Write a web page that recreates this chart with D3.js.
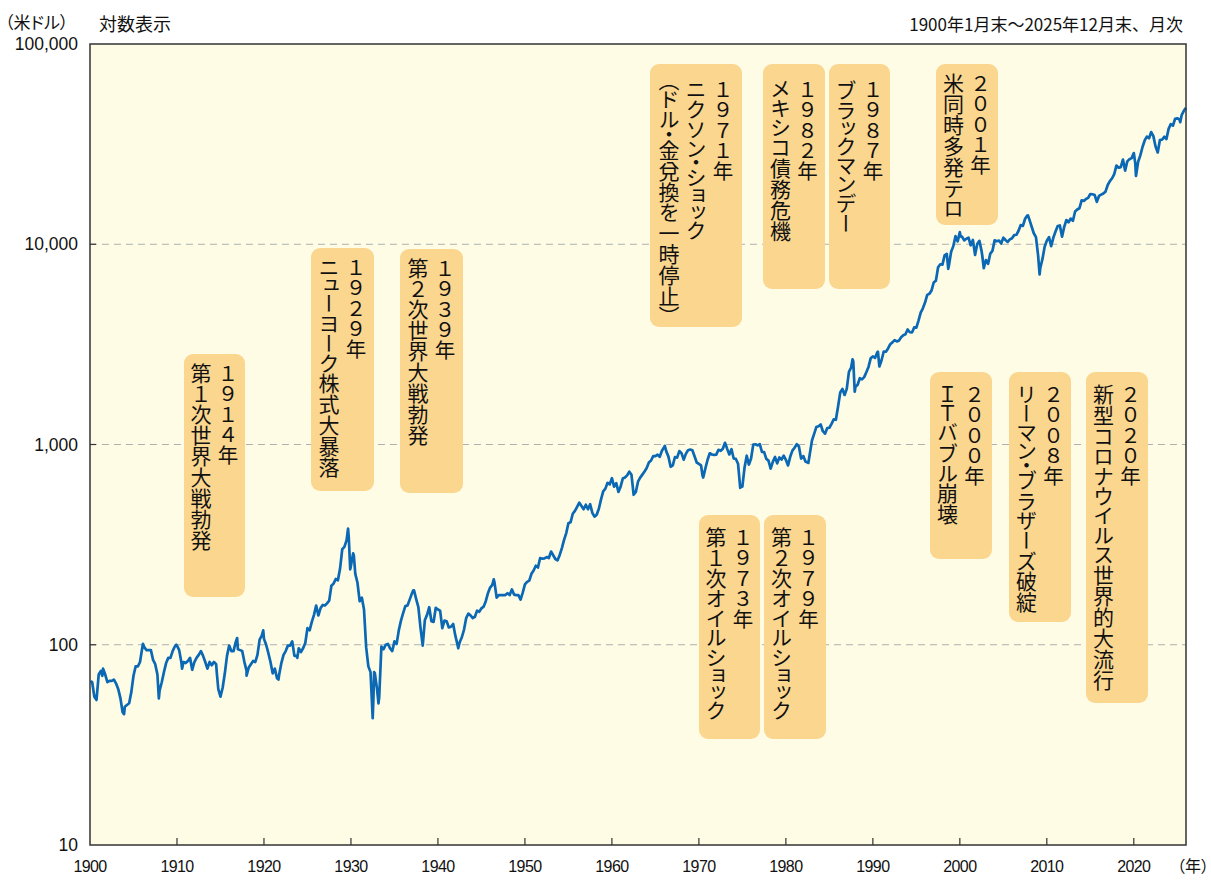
<!DOCTYPE html>
<html>
<head>
<meta charset="utf-8">
<script src="https://d3js.org/d3.v7.min.js"></script>
<style>
  body { margin: 0; background: #fff; }
  .tick-label { font-family: "Liberation Sans", Arial, sans-serif; fill: #111; }
  .jp { font-family: "Noto Sans CJK JP", sans-serif; fill: #111; }
</style>
</head>
<body>
<div id="chart"></div>
<script>
// DJIA quarter-end closes (Mar, Jun, Sep, Dec)
var q1900s = [
  [1900, 65, 55, 53, 71], [1901, 74, 76, 71, 65], [1902, 66, 66, 67, 64],
  [1903, 60, 54, 46, 49], [1904, 50, 51, 58, 70], [1905, 78, 78, 82, 96],
  [1906, 97, 94, 94, 94], [1907, 84, 80, 71, 59], [1908, 65, 73, 81, 86],
  [1909, 86, 93, 98, 99]
];
var q1910s = [
  [1910, 94, 82, 82, 81], [1911, 83, 86, 75, 82], [1912, 86, 89, 93, 88],
  [1913, 82, 76, 82, 79], [1914, 82, 80, 60, 55], [1915, 61, 72, 88, 99],
  [1916, 93, 93, 103, 95], [1917, 94, 93, 82, 74], [1918, 77, 80, 83, 82],
  [1919, 89, 106, 111, 107]
];
var q1920s = [
  [1920, 100, 91, 82, 72], [1921, 76, 68, 71, 81], [1922, 89, 93, 99, 99],
  [1923, 104, 88, 88, 96], [1924, 92, 96, 102, 121], [1925, 118, 130, 141, 157],
  [1926, 140, 152, 158, 157], [1927, 161, 166, 197, 202], [1928, 213, 210, 240, 300],
  [1929, 308, 333, 343, 248]
];
var q1930s = [
  [1930, 286, 226, 204, 165], [1931, 172, 150, 97, 78], [1932, 73, 43, 72, 60],
  [1933, 55, 98, 95, 100], [1934, 101, 96, 93, 104], [1935, 101, 118, 132, 144],
  [1936, 156, 157, 168, 180], [1937, 187, 169, 154, 121], [1938, 99, 133, 141, 154],
  [1939, 131, 130, 153, 150]
];
var q1940s = [
  [1940, 148, 121, 132, 131], [1941, 122, 123, 127, 111], [1942, 100, 103, 109, 119],
  [1943, 136, 143, 140, 136], [1944, 138, 148, 146, 152], [1945, 155, 165, 181, 193],
  [1946, 199, 205, 172, 177], [1947, 177, 177, 177, 181], [1948, 177, 189, 178, 177],
  [1949, 177, 168, 182, 200]
];
var q1950s = [
  [1950, 206, 209, 226, 235], [1951, 248, 243, 271, 269], [1952, 270, 274, 271, 292],
  [1953, 280, 268, 264, 281], [1954, 304, 334, 361, 404], [1955, 409, 451, 466, 488],
  [1956, 512, 493, 475, 500], [1957, 475, 503, 456, 436], [1958, 446, 478, 532, 584],
  [1959, 602, 644, 632, 679]
];
var q1960s = [
  [1960, 616, 641, 580, 616], [1961, 676, 684, 701, 731], [1962, 706, 561, 579, 652],
  [1963, 683, 707, 733, 763], [1964, 813, 832, 875, 874], [1965, 889, 868, 931, 969],
  [1966, 924, 870, 774, 786], [1967, 866, 860, 927, 905], [1968, 840, 898, 936, 944],
  [1969, 936, 873, 813, 800]
];
var q1970s = [
  [1970, 786, 684, 761, 839], [1971, 904, 891, 887, 890], [1972, 941, 929, 953, 1020],
  [1973, 951, 892, 947, 851], [1974, 847, 802, 608, 616], [1975, 768, 879, 794, 852],
  [1976, 999, 1003, 990, 1005], [1977, 919, 916, 847, 831], [1978, 757, 819, 866, 805],
  [1979, 862, 842, 879, 839]
];
var q1980s = [
  [1980, 786, 868, 932, 964], [1981, 1004, 977, 850, 875], [1982, 822, 812, 896, 1047],
  [1983, 1130, 1222, 1233, 1259], [1984, 1165, 1133, 1207, 1212], [1985, 1267, 1336, 1329, 1547],
  [1986, 1819, 1893, 1768, 1896], [1987, 2305, 2419, 2596, 1939], [1988, 1989, 2142, 2113, 2169],
  [1989, 2294, 2440, 2693, 2753]
];
var q1990s = [
  [1990, 2707, 2881, 2453, 2634], [1991, 2914, 2907, 3017, 3169], [1992, 3236, 3319, 3272, 3301],
  [1993, 3435, 3516, 3555, 3754], [1994, 3636, 3625, 3843, 3834], [1995, 4158, 4556, 4789, 5117],
  [1996, 5588, 5655, 5882, 6448], [1997, 6584, 7673, 7945, 7908], [1998, 8800, 8952, 7843, 9181],
  [1999, 9786, 10971, 10337, 11497]
];
var q2000s = [
  [2000, 10922, 10448, 10651, 10787], [2001, 9879, 10502, 8848, 10022], [2002, 10404, 9243, 7592, 8342],
  [2003, 7992, 8985, 9275, 10454], [2004, 10358, 10435, 10080, 10783], [2005, 10504, 10275, 10569, 10718],
  [2006, 11109, 11150, 11679, 12463], [2007, 12354, 13409, 13896, 13265], [2008, 12263, 11350, 10851, 8776],
  [2009, 7609, 8447, 9712, 10428]
];
var q2010s = [
  [2010, 10857, 9774, 10788, 11578], [2011, 12320, 12414, 10913, 12218], [2012, 13212, 12880, 13437, 13104],
  [2013, 14579, 14910, 15130, 16577], [2014, 16458, 16827, 17043, 17823], [2015, 17776, 17620, 16285, 17425],
  [2016, 17685, 17930, 18308, 19763], [2017, 20663, 21350, 22405, 24719], [2018, 24103, 24271, 26458, 23327],
  [2019, 25929, 26600, 26917, 28538]
];
var q2020s = [
  [2020, 21917, 25813, 27782, 30606], [2021, 32982, 34503, 33844, 36338], [2022, 34678, 30775, 28726, 33147],
  [2023, 33274, 34408, 33508, 37690], [2024, 39807, 39119, 42330, 42544], [2025, 42002, 44095, 46398, 48000]
];
// extra month-end turning points between quarter ends: [year, month, value]
var turningPoints = [
  [1900, 1, 66], [1901, 5, 70], [1903, 11, 45], [1906, 1, 101], [1907, 11, 54],
  [1909, 11, 100], [1910, 7, 76], [1914, 7, 72], [1916, 11, 108], [1917, 12, 70],
  [1919, 11, 118], [1921, 8, 67], [1923, 10, 86], [1929, 8, 380], [1929, 11, 238],
  [1930, 4, 279], [1932, 7, 54], [1932, 8, 73], [1933, 2, 51], [1937, 2, 187],
  [1938, 3, 99], [1942, 4, 96], [1946, 5, 212], [1962, 6, 561], [1966, 1, 984],
  [1970, 5, 700], [1973, 1, 999], [1974, 11, 619], [1982, 7, 809], [1987, 8, 2663],
  [1987, 11, 1834], [1990, 7, 2905], [1998, 8, 7539], [2000, 1, 10941], [2002, 7, 8737],
  [2007, 10, 13930], [2009, 2, 7063], [2020, 2, 25409], [2025, 4, 40669]
];

var yTicks = [10, 100, 1000, 10000, 100000];
var xTicks = [1900, 1910, 1920, 1930, 1940, 1950, 1960, 1970, 1980, 1990, 2000, 2010, 2020];

var eventYears = ["１９１４年", "１９２９年", "１９３９年", "１９７１年", "１９８２年", "１９８７年",
  "２００１年", "１９７３年", "１９７９年", "２０００年", "２００８年", "２０２０年"];
var eventTexts = [
  ["第１次世界大戦勃発"],
  ["ニューヨーク株式大暴落"],
  ["第２次世界大戦勃発"],
  ["ニクソン・ショック", "（ドル・金兌換を一時停止）"],
  ["メキシコ債務危機"],
  ["ブラックマンデー"],
  ["米同時多発テロ"],
  ["第１次オイルショック"],
  ["第２次オイルショック"],
  ["ＩＴバブル崩壊"],
  ["リーマン・ブラザーズ破綻"],
  ["新型コロナウイルス世界的大流行"]
];

(function(d3) {
  'use strict';

  // box layout in pixels: left, top, width, height, text offset
  var boxLayout = [
    [184, 354, 61, 243, 9], [311, 248, 63, 243, 9], [400, 249, 63, 244, 9],
    [650, 64, 92, 263, 15], [763, 64, 62, 225, 15], [829, 64, 61, 225, 15],
    [936, 64, 62, 161, 9], [699, 515, 61, 224, 12], [764, 515, 62, 224, 12],
    [930, 372, 62, 187, 12], [1009, 372, 62, 250, 12], [1086, 372, 62, 331, 12]
  ];

  var width = 1211, height = 882;
  var plotL = 90, plotR = 1186, plotT = 44, plotB = 845;

  var series = [];
  [q1900s, q1910s, q1920s, q1930s, q1940s, q1950s, q1960s, q1970s, q1980s, q1990s, q2000s, q2010s, q2020s]
    .forEach(function(dec) {
      dec.forEach(function(r) {
        for (var q = 0; q < 4; q++) series.push({ t: r[0] + (q + 1) * 3 / 12, v: r[q + 1] });
      });
    });
  turningPoints.forEach(function(p) { series.push({ t: p[0] + p[1] / 12, v: p[2] }); });
  series.sort(function(a, b) { return a.t - b.t; });

  var x = d3.scaleLinear().domain([1900, 2026]).range([plotL, plotR]);
  var y = d3.scaleLog().domain([10, 100000]).range([plotB, plotT]);

  var svg = d3.select('#chart').append('svg')
    .attr('width', width).attr('height', height);

  svg.append('rect')
    .attr('x', plotL).attr('y', plotT)
    .attr('width', plotR - plotL).attr('height', plotB - plotT)
    .attr('fill', '#fffce6');

  // dashed grid
  svg.selectAll('.grid').data(yTicks.slice(1, 4)).enter().append('line')
    .attr('x1', plotL).attr('x2', plotR)
    .attr('y1', function(d) { return y(d); }).attr('y2', function(d) { return y(d); })
    .attr('stroke', '#b0b0b0').attr('stroke-width', 1.2).attr('stroke-dasharray', '7,5');

  // annotation boxes
  var boxes = svg.selectAll('.box').data(boxLayout).enter().append('g').attr('class', 'box');
  boxes.append('rect')
    .attr('x', function(d) { return d[0]; }).attr('y', function(d) { return d[1]; })
    .attr('width', function(d) { return d[2]; }).attr('height', function(d) { return d[3]; })
    .attr('rx', 9).attr('fill', '#fbd68f');
  boxes.each(function(d, i) {
    var cols = [eventYears[i]].concat(eventTexts[i]);
    var n = cols.length, gap = 27, cx = d[0] + d[2] / 2;
    var g = d3.select(this);
    cols.forEach(function(c, j) {
      var t = g.append('text').attr('class', 'jp')
        .attr('x', cx + ((n - 1) / 2 - j) * gap)
        .attr('y', d[1] + d[4])
        .attr('font-size', j === 0 ? 20.5 : 21)
        .style('writing-mode', 'vertical-rl')
        .text(c);
      // proportional vertical metrics for the descriptions (narrow dots, brackets, small kana)
      if (j > 0) t.style('font-feature-settings', '"vpal"');
    });
  });

  // the index line
  var line = d3.line()
    .x(function(d) { return x(d.t); })
    .y(function(d) { return y(d.v); });
  svg.append('path').datum(series)
    .attr('d', line).attr('fill', 'none')
    .attr('stroke', '#0a68b4').attr('stroke-width', 2.7).attr('stroke-linejoin', 'round');

  // frame
  svg.append('rect')
    .attr('x', plotL).attr('y', plotT)
    .attr('width', plotR - plotL).attr('height', plotB - plotT)
    .attr('fill', 'none').attr('stroke', '#333').attr('stroke-width', 1.5);

  // ticks
  svg.selectAll('.xt').data(xTicks.slice(1)).enter().append('line')
    .attr('x1', function(d) { return x(d); }).attr('x2', function(d) { return x(d); })
    .attr('y1', plotB).attr('y2', plotB - 7).attr('stroke', '#333').attr('stroke-width', 1.2);
  svg.selectAll('.yt').data(yTicks.slice(1, 4)).enter().append('line')
    .attr('x1', plotL).attr('x2', plotL + 6)
    .attr('y1', function(d) { return y(d); }).attr('y2', function(d) { return y(d); })
    .attr('stroke', '#333').attr('stroke-width', 1.2);

  svg.selectAll('.xl').data(xTicks).enter().append('text')
    .attr('class', 'tick-label')
    .attr('x', function(d) { return x(d); }).attr('y', 872)
    .attr('text-anchor', 'middle').attr('font-size', 16).attr('letter-spacing', -0.6)
    .text(function(d) { return d; });
  svg.selectAll('.yl').data(yTicks).enter().append('text')
    .attr('class', 'tick-label')
    .attr('x', 78).attr('y', function(d) { return y(d) + 6; })
    .attr('text-anchor', 'end').attr('font-size', 17.5)
    .text(function(d) { return d3.format(',')(d); });

  svg.append('text').attr('class', 'jp').attr('x', 1209).attr('y', 872)
    .attr('text-anchor', 'end').attr('font-size', 16)
    .style('font-feature-settings', '"palt"')
    .text('（年）');
  svg.append('text').attr('class', 'jp').attr('x', 5).attr('y', 29)
    .attr('font-size', 17).style('font-feature-settings', '"palt"').text('（米ドル）');
  svg.append('text').attr('class', 'jp').attr('x', 99).attr('y', 31)
    .attr('font-size', 18).text('対数表示');
  svg.append('text').attr('class', 'jp').attr('x', 1183).attr('y', 31)
    .attr('text-anchor', 'end').attr('font-size', 17)
    .text('1900年1月末～2025年12月末、月次');
})(window.d3);
</script>
</body>
</html>
